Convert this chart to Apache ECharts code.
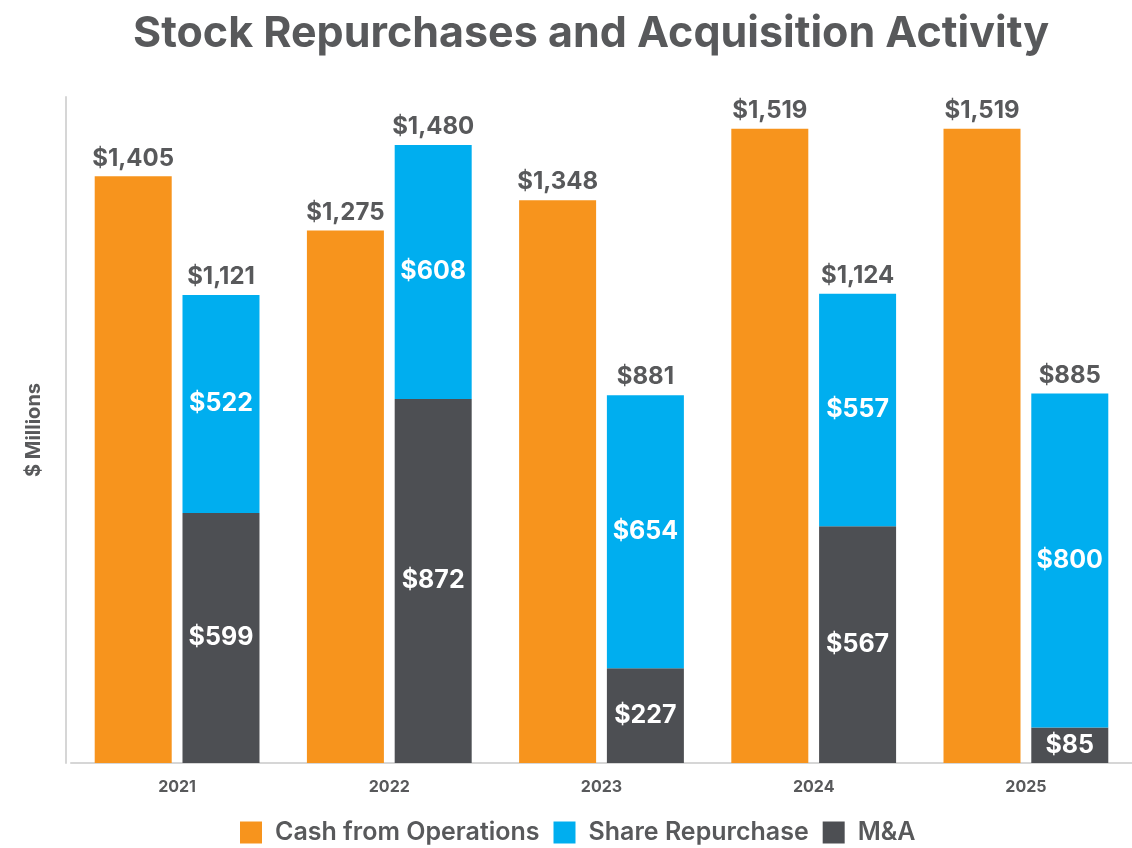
<!DOCTYPE html>
<html>
<head>
<meta charset="utf-8">
<script src="https://cdn.jsdelivr.net/npm/echarts@6/dist/echarts.min.js"></script>
<style>
  html, body { margin: 0; padding: 0; background: #fff; }
  #chart { width: 1132px; height: 848px; }
</style>
</head>
<body>
<div id="chart"></div>
<script>
// data
const years = ['2021', '2022', '2023', '2024', '2025'];
const cashFromOps = [1405, 1275, 1348, 1519, 1519];
const mna = [599, 872, 227, 567, 85];
const shareRepurchase = [522, 608, 654, 557, 800];
const stackTotals = [1121, 1480, 881, 1124, 885];

const ORANGE = '#F7941D';
const BLUE = '#00AEEF';
const DARK = '#4D4F53';
const TEXT = '#58595B';
const FONT = 'Inter, Roboto, "Liberation Sans", sans-serif';

function money(v) {
  return '$' + v.toLocaleString('en-US');
}

const chart = echarts.init(document.getElementById('chart'));

const option = {
  animation: false,
  title: {
    text: 'Stock Repurchases and Acquisition Activity',
    left: 128,
    top: 8,
    textStyle: { fontFamily: FONT, fontSize: 43, fontWeight: 'bold', color: TEXT }
  },
  legend: {
    data: ['Cash from Operations', 'Share Repurchase', 'M&A'],
    top: 820,
    left: 240,
    padding: 0,
    itemWidth: 22,
    itemHeight: 22,
    itemGap: 14,
    icon: 'rect',
    textStyle: { fontFamily: FONT, fontSize: 25, fontWeight: 600, color: TEXT, padding: [0, 0, 0, 8] }
  },
  grid: { left: 71, right: 0, top: 97, bottom: 85 },
  xAxis: {
    type: 'category',
    data: years,
    axisTick: { show: false },
    axisLine: { lineStyle: { color: '#d6d6d6', width: 2 } },
    axisLabel: { fontFamily: FONT, fontSize: 16, fontWeight: 'bold', color: TEXT, margin: 16 }
  },
  yAxis: {
    type: 'value',
    min: 0,
    max: 1595,
    offset: 5,
    name: '$ Millions',
    nameLocation: 'middle',
    nameGap: 22,
    nameTextStyle: { fontFamily: FONT, fontSize: 20, fontWeight: 'bold', color: TEXT },
    axisLine: { show: true, lineStyle: { color: '#d6d6d6', width: 2 } },
    axisTick: { show: false },
    axisLabel: { show: false },
    splitLine: { show: false }
  },
  series: [
    {
      name: 'Cash from Operations',
      type: 'bar',
      data: cashFromOps,
      barWidth: 77,
      barGap: '14%',
      itemStyle: { color: ORANGE },
      label: {
        show: true,
        position: 'top',
        distance: 6,
        formatter: p => money(p.value),
        fontFamily: FONT, fontSize: 24, fontWeight: 'bold', color: TEXT
      }
    },
    {
      name: 'M&A',
      type: 'bar',
      stack: 'buy',
      data: mna,
      barWidth: 77,
      itemStyle: { color: DARK },
      label: {
        show: true,
        position: 'inside',
        formatter: p => money(p.value),
        fontFamily: FONT, fontSize: 25, fontWeight: 'bold', color: '#fff'
      }
    },
    {
      name: 'Share Repurchase',
      type: 'bar',
      stack: 'buy',
      data: shareRepurchase,
      barWidth: 77,
      itemStyle: { color: BLUE },
      label: {
        show: true,
        position: 'inside',
        formatter: p => money(p.value),
        fontFamily: FONT, fontSize: 25, fontWeight: 'bold', color: '#fff'
      }
    },
    {
      // zero-height cap just to hang the total label on
      name: 'Total',
      type: 'bar',
      stack: 'buy',
      data: years.map(() => 0),
      barWidth: 77,
      itemStyle: { color: 'transparent' },
      label: {
        show: true,
        position: 'top',
        distance: 6,
        formatter: p => money(stackTotals[p.dataIndex]),
        fontFamily: FONT, fontSize: 24, fontWeight: 'bold', color: TEXT
      }
    }
  ]
};

chart.setOption(option);
</script>
</body>
</html>
